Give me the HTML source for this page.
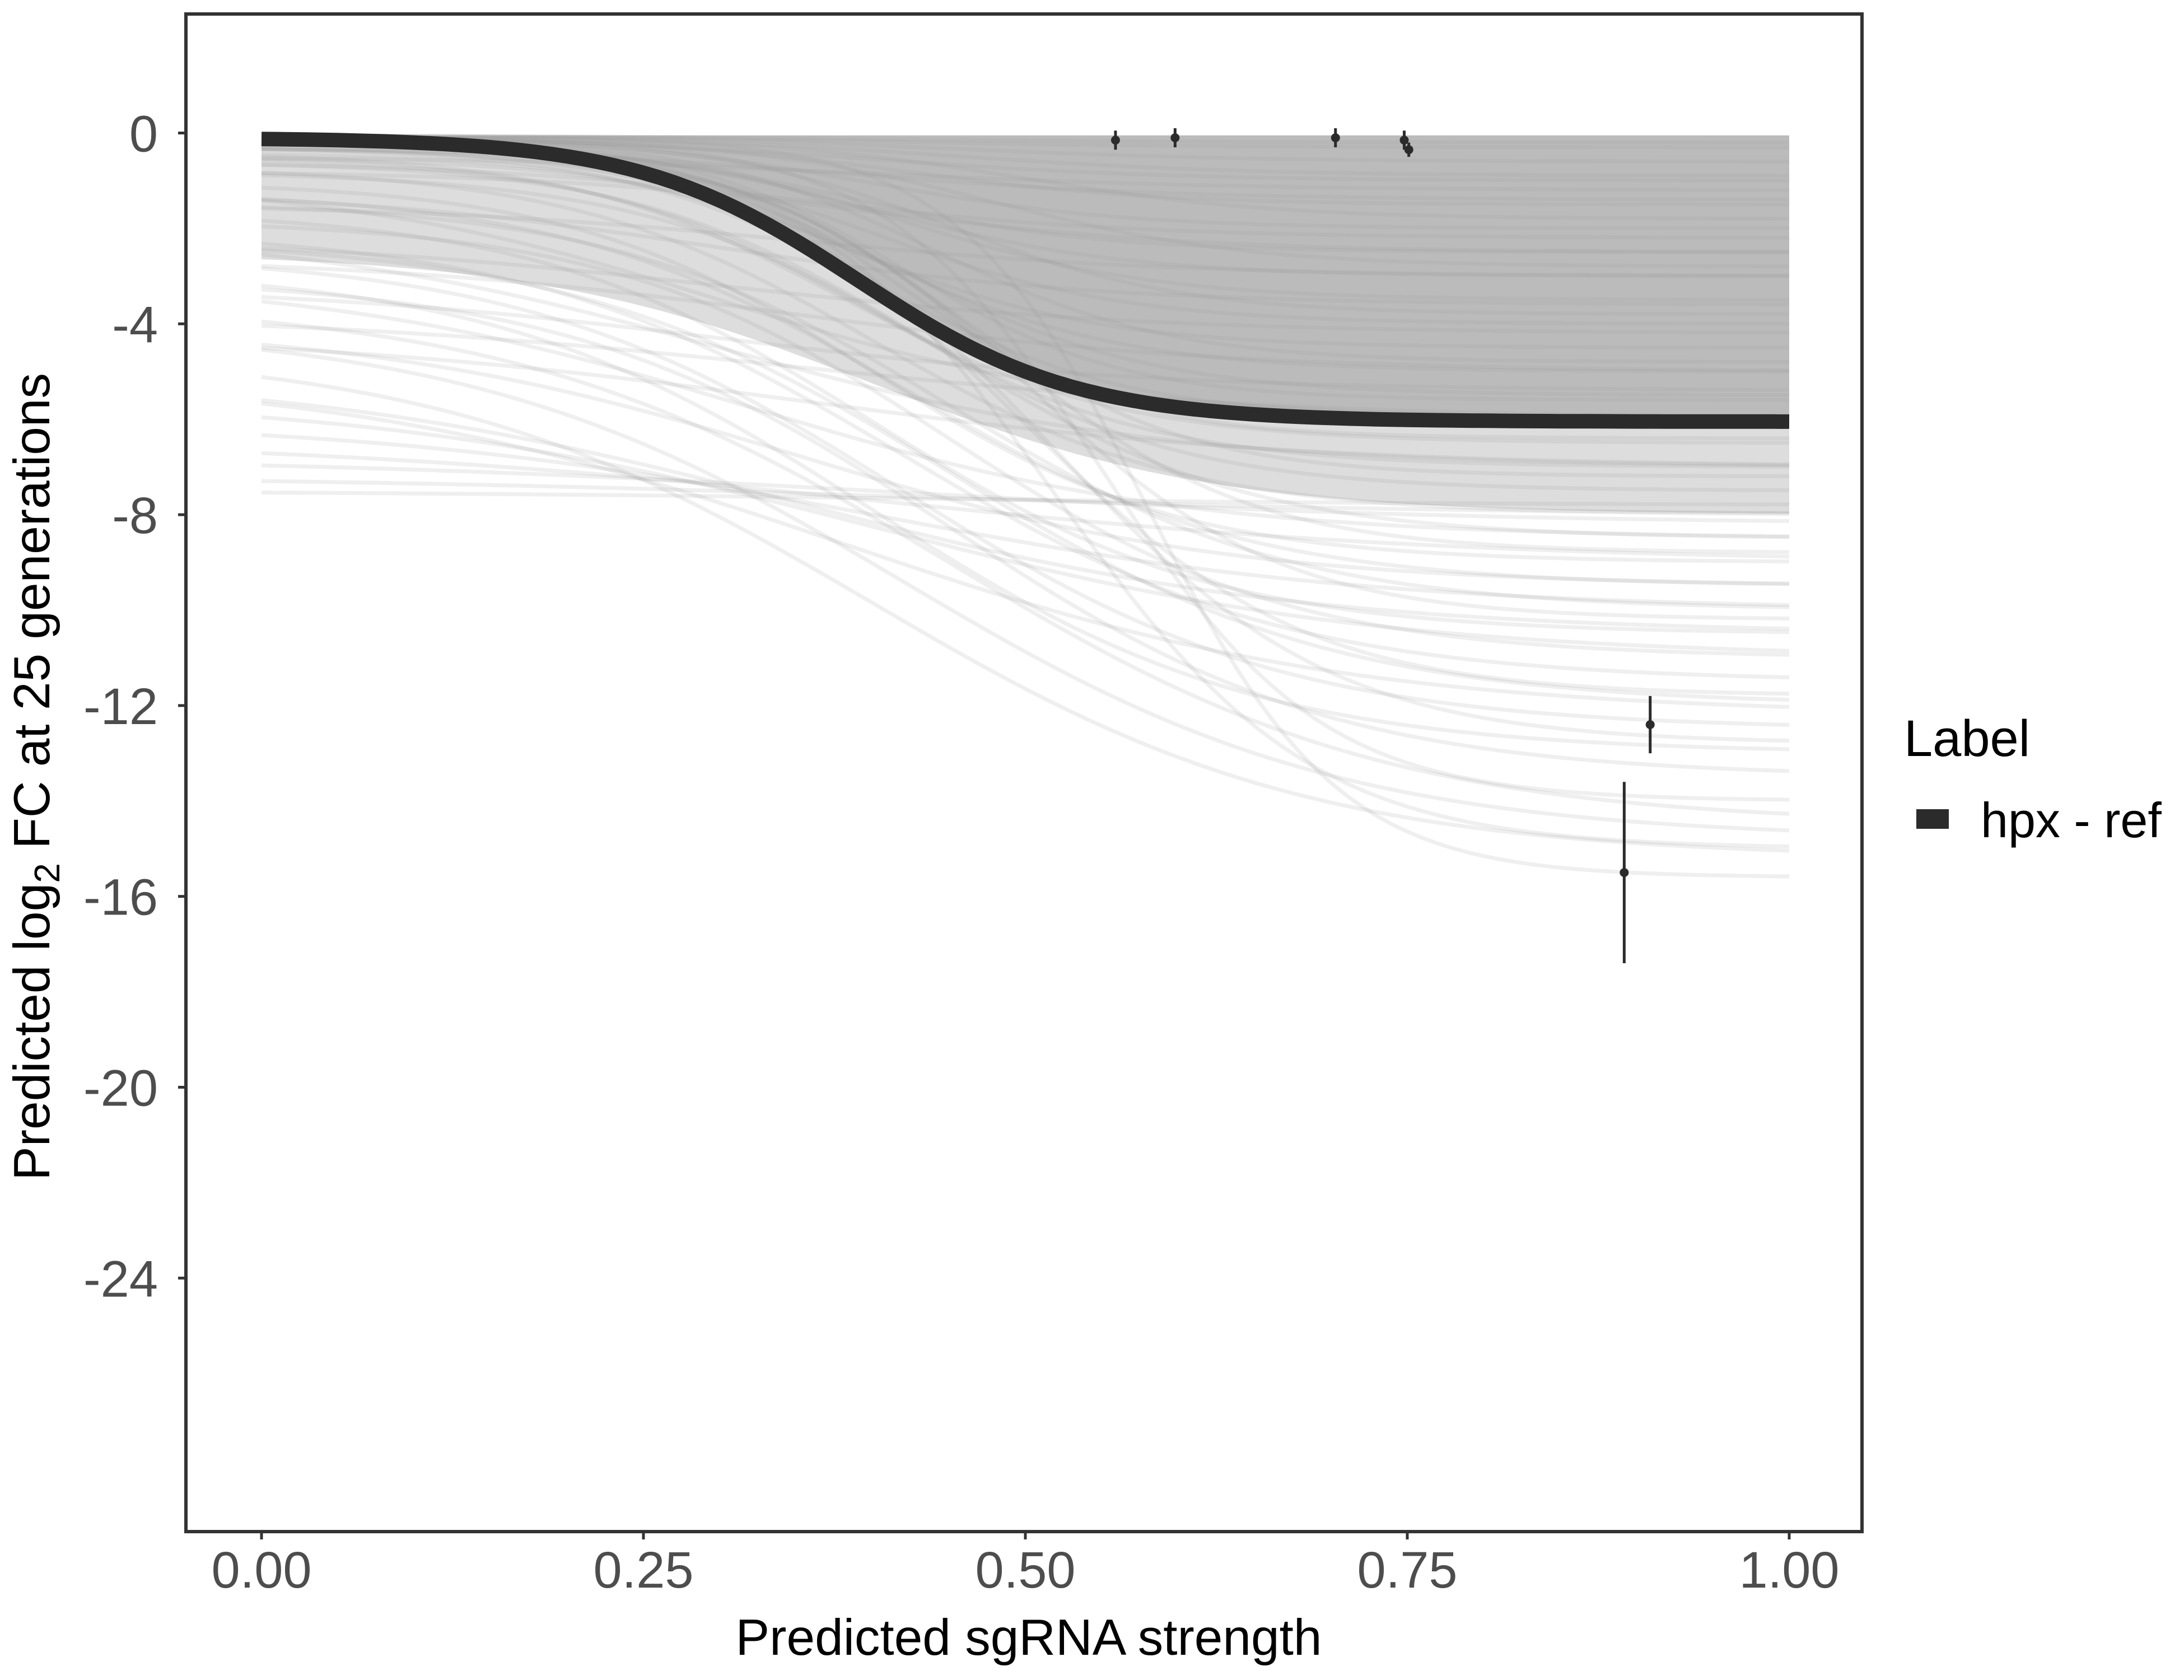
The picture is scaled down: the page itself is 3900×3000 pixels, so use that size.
<!DOCTYPE html>
<html><head><meta charset="utf-8"><style>html,body{margin:0;padding:0;background:#fff}svg{display:block}text{font-family:"Liberation Sans",sans-serif}</style></head>
<body>
<svg id="chart" width="3900" height="3000" viewBox="0 0 3900 3000" xmlns="http://www.w3.org/2000/svg">
<rect x="0" y="0" width="3900" height="3000" fill="#fff"/>
<g id="plot"></g>
<g id="axes"></g>
<text x="1837" y="2955" font-size="91" text-anchor="middle" fill="#000">Predicted sgRNA strength</text>
<text transform="translate(88,1387) rotate(-90)" font-size="91" text-anchor="middle" fill="#000">Predicted  log<tspan font-size="64" dy="18">2</tspan><tspan dy="-18"> FC at 25 generations</tspan></text>
<g>
<text x="3400" y="1350" font-size="92" fill="#000">Label</text>
<rect x="3422" y="1445" width="58" height="35" fill="#2b2b2b"/>
<text x="3537" y="1495" font-size="88" fill="#000">hpx - ref</text>
</g>
</svg>
<script>
const xTicks=[0,0.25,0.5,0.75,1];
const xTickLabels=["0.00","0.25","0.50","0.75","1.00"];
const yTicks=[0,-4,-8,-12,-16,-20,-24];
const yTickLabels=["0","-4","-8","-12","-16","-20","-24"];
const drawStart=[-0.05,-0.05,-0.1,-0.1,-0.1,-0.15,-0.2,-0.2,-0.2,-0.25,-0.3,-0.3,-0.3,-0.4,-0.5,-0.6,-0.7,-0.8,-1.0,-1.2,-1.4,-1.6,-1.8,-2.0,-2.2,-2.5,-2.8,-3.0,-0.1,-0.1,-0.2,-3.5,-4.0,-4.5,-5.0,-5.5,-6.0,-6.4,-6.8,-7.2,-7.5,-3.8,-4.2,-2.6,-1.5,-0.5,-0.8,-0.05,-0.05,-0.1,-0.1,-0.1,-0.1,-0.1,-0.1,-0.2,-0.2,-0.3,-0.4,-0.5,-1.0,-2.0,-3.0,-4.0,-5.0,-2.2,-3.2,-1.2,-0.6,-0.3];
const drawEnd=[-0.3,-0.6,-1.0,-1.5,-2.0,-2.5,-3.0,-3.5,-4.0,-4.5,-5.0,-5.5,-6.0,-6.5,-7.0,-7.5,-8.0,-8.5,-9.0,-9.5,-10.0,-10.5,-11.0,-11.5,-12.0,-12.5,-13.0,-13.5,-14.0,-15.6,-15.0,-14.5,-14.8,-15.2,-12.2,-11.0,-10.0,-9.0,-8.2,-8.0,-7.8,-6.0,-7.0,-5.0,-3.0,-1.2,-2.5,-0.2,-0.9,-1.8,-2.8,-3.8,-4.8,-5.6,-6.4,-7.2,-8.8,-10.2,-11.8,-12.8,-6.0,-7.0,-8.5,-9.5,-10.5,-4.2,-5.4,-3.6,-2.2,-1.4];
const drawMid=[0.4,0.45,0.4,0.42,0.4,0.38,0.4,0.42,0.4,0.38,0.4,0.42,0.4,0.38,0.4,0.42,0.4,0.45,0.4,0.42,0.45,0.4,0.45,0.42,0.45,0.42,0.4,0.45,0.55,0.58,0.52,0.45,0.42,0.4,0.38,0.4,0.4,0.4,0.4,0.4,0.4,0.35,0.35,0.35,0.35,0.4,0.4,0.4,0.45,0.5,0.48,0.45,0.44,0.42,0.42,0.45,0.48,0.5,0.5,0.52,0.3,0.3,0.32,0.35,0.35,0.3,0.3,0.3,0.35,0.38];
const drawSteep=[10,10,10,12,12,12,12,12,12,12,12,12,12,11,11,11,10,10,10,9,9,9,9,8,8,8,8,8,14,16,12,7,7,7,6,6,6,5,5,5,5,6,6,7,8,8,9,9,10,12,12,13,13,14,14,13,12,12,11,11,8,7,7,7,6,7,7,8,9,9];
const meanParams=[-0.1,-6.05,0.39,14];
const lowerBandParams=[-2.5,-8.0,0.4,9];
const ptX=[0.559,0.598,0.703,0.748,0.751,0.909,0.892];
const ptY=[-0.15,-0.1,-0.1,-0.15,-0.35,-12.4,-15.5];
const ptLo=[-0.35,-0.3,-0.3,-0.35,-0.5,-13.0,-17.4];
const ptHi=[0.05,0.1,0.1,0.05,-0.2,-11.8,-13.6];

const NS="http://www.w3.org/2000/svg";
const X0=467,X1=3195,PL=332,PR=3325,PT=25,PB=2735;
const Y0=237.5,YU=85.2;
const sx=v=>X0+(X1-X0)*v;
const sy=v=>Y0-YU*v;
function logi(a,b,m,k,x){return a+(b-a)/(1+Math.exp(-k*(x-m)));}
function curvePath(a,b,m,k){let d="";for(let i=0;i<=100;i++){const x=i/100;d+=(i?"L":"M")+sx(x).toFixed(1)+","+sy(logi(a,b,m,k,x)).toFixed(1);}return d;}
function mk(t,at,parent){const e=document.createElementNS(NS,t);for(const k in at)e.setAttribute(k,at[k]);parent.appendChild(e);return e;}
const plot=document.getElementById("plot"),axes=document.getElementById("axes");
const mAt=x=>logi(meanParams[0],meanParams[1],meanParams[2],meanParams[3],x);

let lb="";
for(let i=0;i<=100;i++){const x=i/100;lb+=(i?"L":"M")+sx(x).toFixed(1)+","+sy(Math.min(-0.05,mAt(x))).toFixed(1);}
for(let i=100;i>=0;i--){const x=i/100;lb+="L"+sx(x).toFixed(1)+","+sy(Math.min(mAt(x),logi(lowerBandParams[0],lowerBandParams[1],lowerBandParams[2],lowerBandParams[3],x))).toFixed(1);}
const band2=mk("path",{d:lb+"Z",fill:"#aaaaaa","fill-opacity":"0.4"},plot);



let bd="";
for(let i=0;i<=100;i++){const x=i/100;bd+=(i?"L":"M")+sx(x).toFixed(1)+","+sy(-0.05).toFixed(1);}
for(let i=100;i>=0;i--){const x=i/100;bd+="L"+sx(x).toFixed(1)+","+sy(Math.min(-0.05,mAt(x))).toFixed(1);}
const band=mk("path",{d:bd+"Z",fill:"#aaaaaa","fill-opacity":"0.8"},plot);



for(let i=0;i<drawStart.length;i++){
  const p=mk("path",{d:curvePath(drawStart[i],drawEnd[i],drawMid[i],drawSteep[i]),fill:"none",stroke:"#9a9a9a","stroke-opacity":"0.16","stroke-width":"7"},plot);
  
  
}
const mean=mk("path",{d:curvePath(meanParams[0],meanParams[1],meanParams[2],meanParams[3]),fill:"none",stroke:"#2b2b2b","stroke-width":"26"},plot);



for(let i=0;i<ptX.length;i++){
  const l=mk("line",{x1:sx(ptX[i]),x2:sx(ptX[i]),y1:sy(ptLo[i]),y2:sy(ptHi[i]),stroke:"#2b2b2b","stroke-width":"5"},plot);
  
  
  const c=mk("circle",{cx:sx(ptX[i]),cy:sy(ptY[i]),r:"8",fill:"#2b2b2b"},plot);
  
  
}
const border=mk("rect",{x:PL,y:PT,width:PR-PL,height:PB-PT,fill:"none",stroke:"#333","stroke-width":"6"},axes);


for(let i=0;i<xTicks.length;i++){
  const t=mk("line",{x1:sx(xTicks[i]),x2:sx(xTicks[i]),y1:PB,y2:PB+14,stroke:"#333","stroke-width":"5"},axes);
  
  
  const l=mk("text",{x:sx(xTicks[i]),y:PB+100,"font-size":"92","text-anchor":"middle",fill:"#4d4d4d"},axes);
  l.textContent=xTickLabels[i];
  
  
}
for(let i=0;i<yTicks.length;i++){
  const t=mk("line",{x1:PL-14,x2:PL,y1:sy(yTicks[i]),y2:sy(yTicks[i]),stroke:"#333","stroke-width":"5"},axes);
  
  
  const l=mk("text",{x:PL-50,y:sy(yTicks[i])+33,"font-size":"92","text-anchor":"end",fill:"#4d4d4d"},axes);
  l.textContent=yTickLabels[i];
  
  
}
</script>
</body></html>
